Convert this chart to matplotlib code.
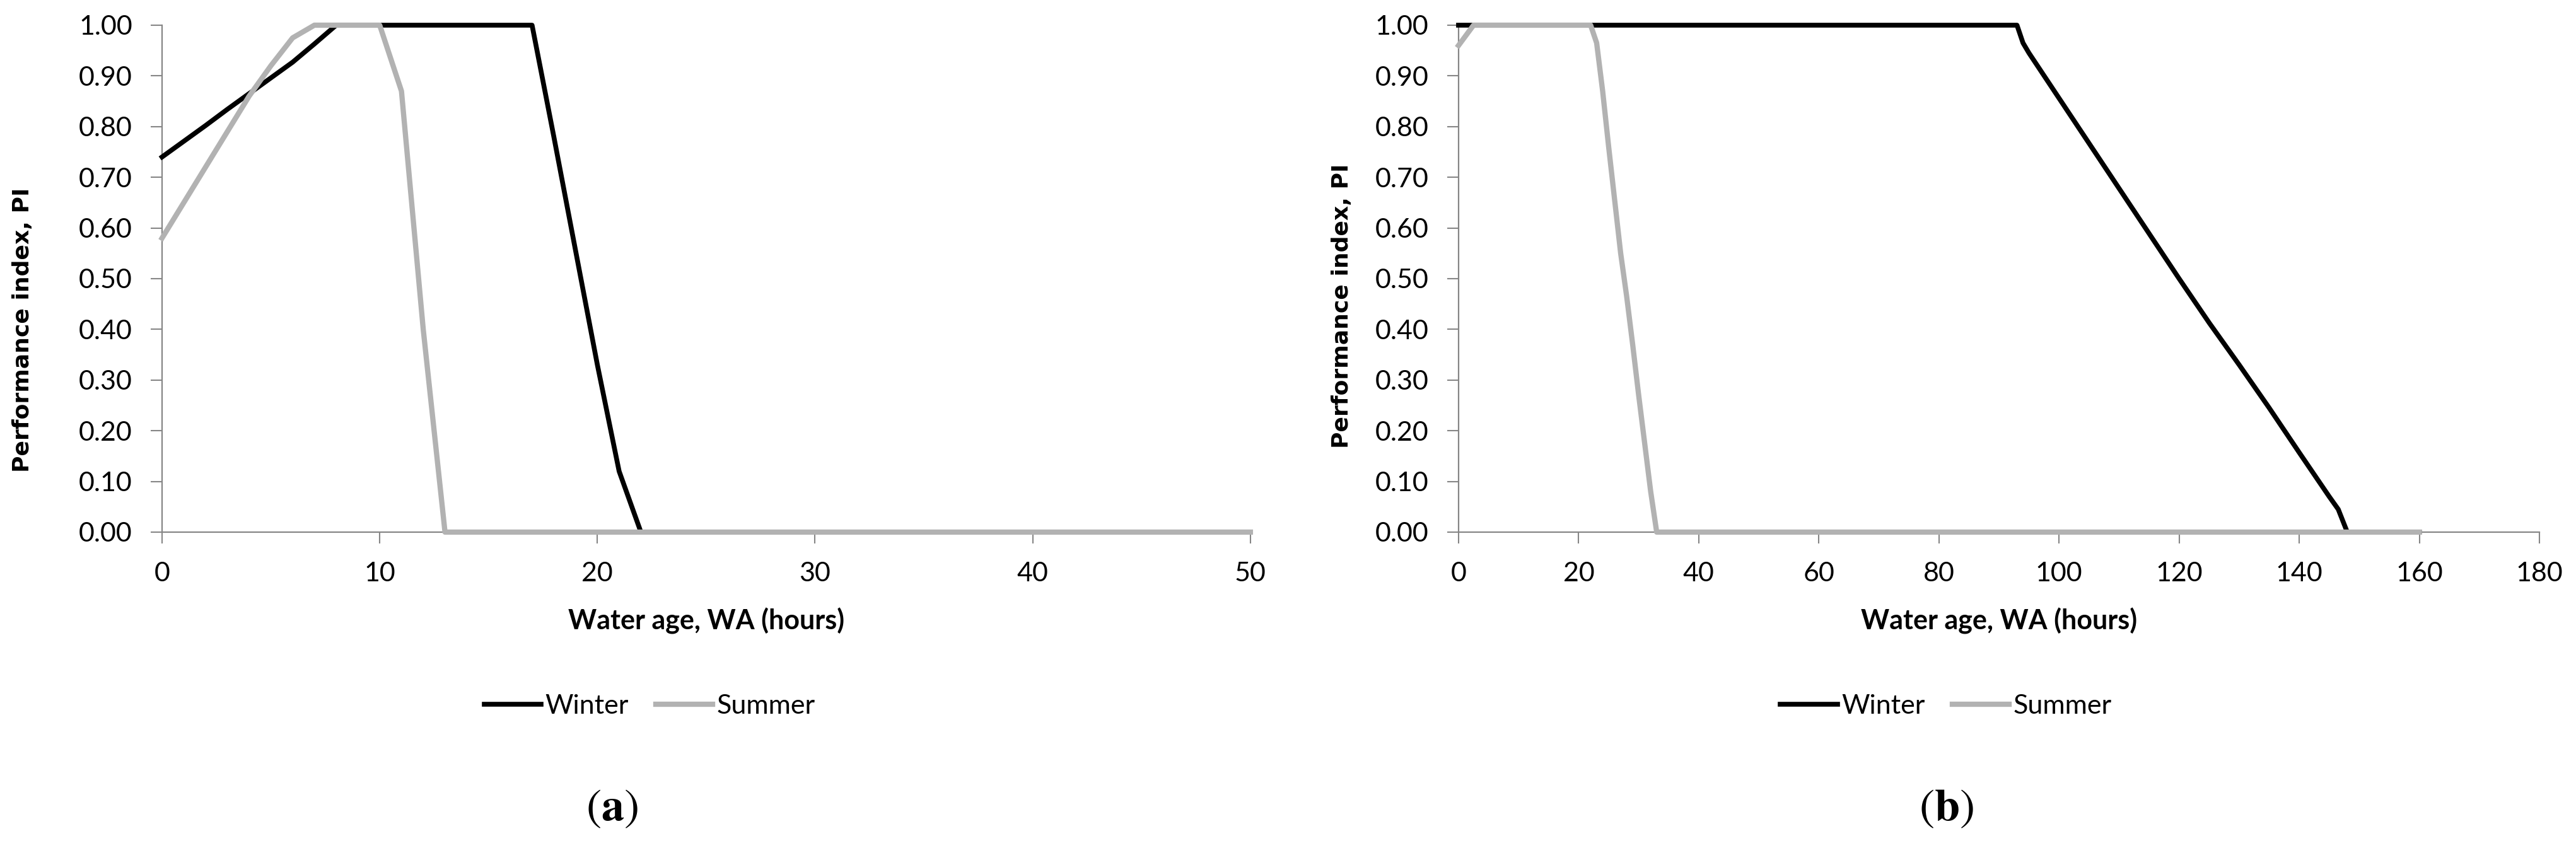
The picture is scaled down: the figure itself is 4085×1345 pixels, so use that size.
import matplotlib
matplotlib.use("Agg")
import matplotlib.pyplot as plt

plt.rcParams["mathtext.fontset"] = "stix"

# --- data ---
# panel (a)
wa_winter_a = [0, 1, 2, 3, 4, 5, 6, 7, 8, 17, 18, 19, 20, 21, 22, 50]
pi_winter_a = [0.74, 0.771, 0.802, 0.834, 0.865, 0.896, 0.927, 0.963, 1.0, 1.0,
               0.78, 0.555, 0.33, 0.12, 0.0, 0.0]
wa_summer_a = [0, 1, 2, 3, 4, 5, 6, 7, 10, 11, 12, 13, 50]
pi_summer_a = [0.58, 0.65, 0.72, 0.79, 0.86, 0.92, 0.975, 1.0, 1.0, 0.87, 0.40, 0.0, 0.0]

# panel (b)
wa_winter_b = [0, 93, 94, 95, 100, 105, 110, 115, 120, 125, 130, 135, 140,
               145, 146.5, 148, 160]
pi_winter_b = [1.0, 1.0, 0.965, 0.945, 0.856, 0.767, 0.678, 0.589, 0.50,
               0.413, 0.33, 0.245, 0.157, 0.07, 0.045, 0.0, 0.0]
wa_summer_b = [0, 2.5, 22, 23, 24, 25, 26, 27, 28, 29, 30, 31, 32, 33, 160]
pi_summer_b = [0.96, 1.0, 1.0, 0.965, 0.87, 0.76, 0.655, 0.55, 0.465, 0.37,
               0.27, 0.175, 0.08, 0.0, 0.0]

yticks = [0.0, 0.1, 0.2, 0.3, 0.4, 0.5, 0.6, 0.7, 0.8, 0.9, 1.0]
xticks_a = [0, 10, 20, 30, 40, 50]
xticks_b = [0, 20, 40, 60, 80, 100, 120, 140, 160, 180]

AXIS_GREY = "#868686"
SUMMER_GREY = "#b2b2b2"
TXT_FONT = ["Lato", "DejaVu Sans"]

fig = plt.figure(figsize=(40.85, 13.45), dpi=100)
fig.patch.set_facecolor("white")

panels = [
    dict(rect=[0.0629, 0.3725, 0.4225, 0.5978], wa_w=wa_winter_a, pi_w=pi_winter_a,
         wa_s=wa_summer_a, pi_s=pi_summer_a, xticks=xticks_a, xlim=(0, 50),
         ylab=(-0.128, 0.399), leg_x=0.448, tag="a", tag_x=970),
    dict(rect=[0.5662, 0.3725, 0.4196, 0.5978], wa_w=wa_winter_b, pi_w=pi_winter_b,
         wa_s=wa_summer_b, pi_s=pi_summer_b, xticks=xticks_b, xlim=(0, 180),
         ylab=(-0.108, 0.4465), leg_x=0.451, tag="b", tag_x=3086),
]

for p in panels:
    ax = fig.add_axes(p["rect"])
    ax.plot(p["wa_w"], p["pi_w"], color="black", lw=5.5, label="Winter",
            clip_on=False, zorder=3, solid_joinstyle="round")
    ax.plot(p["wa_s"], p["pi_s"], color=SUMMER_GREY, lw=6, label="Summer",
            clip_on=False, zorder=4, solid_joinstyle="round")

    ax.set_xlim(*p["xlim"])
    ax.set_ylim(0, 1)
    ax.set_xticks(p["xticks"])
    ax.set_yticks(yticks)
    ax.set_yticklabels([f"{v:.2f}" for v in yticks])

    for side in ["top", "right"]:
        ax.spines[side].set_visible(False)
    for side in ["left", "bottom"]:
        ax.spines[side].set_color(AXIS_GREY)
        ax.spines[side].set_linewidth(1.6)
    ax.tick_params(axis="both", direction="out", length=13, width=1.5,
                   color=AXIS_GREY, labelsize=31, pad=21)
    for lbl in ax.get_xticklabels() + ax.get_yticklabels():
        lbl.set_family(TXT_FONT)

    ax.text(0.5, -0.175, "Water age, WA (hours)", transform=ax.transAxes,
            ha="center", va="center", fontsize=31, fontweight="bold",
            family=TXT_FONT)
    ax.text(p["ylab"][0], p["ylab"][1], "Performance index, PI",
            transform=ax.transAxes, rotation=90, ha="center", va="center",
            fontsize=26, fontweight="bold", family="DejaVu Sans")

    ax.legend(loc="center", bbox_to_anchor=(p["leg_x"], -0.343), ncol=2,
              frameon=False, handlelength=2.1, handletextpad=0.15,
              columnspacing=1.0, prop={"family": TXT_FONT, "size": 31})

    fig.text(p["tag_x"] / 4085, 1 - 1282 / 1345, r"$(\mathbf{" + p["tag"] + r"})$",
             ha="center", va="center", fontsize=52)

fig.savefig("out.png", dpi=100, facecolor="white")
